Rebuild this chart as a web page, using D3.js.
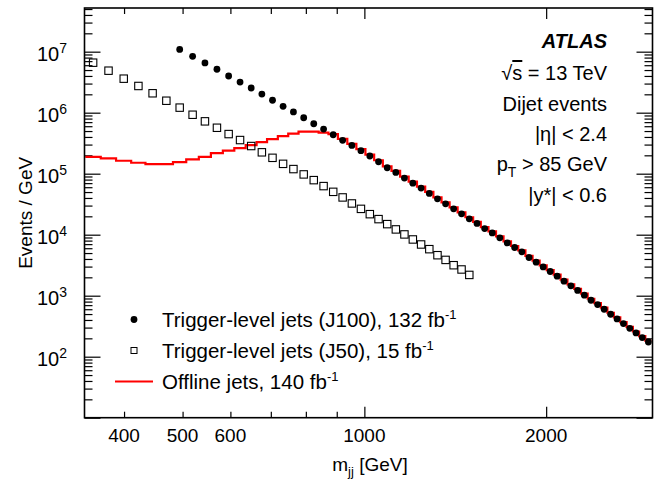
<!DOCTYPE html>
<html>
<head>
<meta charset="utf-8">
<script src="https://cdn.jsdelivr.net/npm/d3@7/dist/d3.min.js"></script>
<style>
  body { margin: 0; background: #fff; }
  svg text { font-family: "Liberation Sans", Arial, Helvetica, sans-serif; fill: #000; }
</style>
</head>
<body>
<div id="chart"></div>
<script>
// mjj bin edges [GeV]
const binEdges = [345, 366, 388, 411, 434, 458, 482, 507, 532, 557, 583, 609, 636, 663, 690, 719,
  748, 778, 809, 840, 872, 904, 937, 970, 1004, 1038, 1073, 1109, 1146, 1184, 1222, 1261, 1301,
  1342, 1384, 1427, 1470, 1514, 1559, 1605, 1652, 1700, 1749, 1798, 1848, 1899, 1951, 2004, 2058,
  2113, 2169, 2226, 2284, 2343, 2403, 2464, 2526, 2589, 2653, 2718, 2784, 2851, 2919, 2988];

// trigger-level J100 starts at bin 6
const j100FirstBin = 6;
const j100Values = [1.09e7, 8.4e6, 6.53e6, 5.15e6, 3.99e6, 3.18e6, 2.54e6, 2.02e6, 1.60e6, 1.27e6,
  1.03e6, 8.26e5, 6.58e5, 5.39e5, 4.35e5, 3.52e5, 2.91e5, 2.38e5, 1.95e5, 1.57e5, 1.25e5, 1.05e5,
  8.46e4, 7.0e4, 5.80e4, 4.75e4, 3.87e4, 3.20e4, 2.65e4, 2.20e4, 1.82e4, 1.53e4, 1.26e4, 1.07e4,
  8870, 7340, 6170, 5230, 4230, 3540, 2960, 2490, 2090, 1730, 1450, 1220, 1020, 842, 716, 600,
  496, 416, 349, 292, 245, 206, 174];

// trigger-level J50 from bin 0
const j50Values = [6.60e6, 4.88e6, 3.61e6, 2.74e6, 2.08e6, 1.57e6, 1.21e6, 9.25e5, 7.21e5, 5.66e5,
  4.46e5, 3.56e5, 2.84e5, 2.24e5, 1.82e5, 1.45e5, 1.19e5, 9.73e4, 7.84e4, 6.26e4, 5.04e4, 4.08e4,
  3.25e4, 2.65e4, 2.17e4, 1.80e4, 1.49e4, 1.22e4, 1.01e4, 8350, 6910, 5790, 4610, 3860, 3160,
  2690, 2190];

// offline jets, all bins
const offlineValues = [1.89e5, 1.78e5, 1.63e5, 1.51e5, 1.44e5, 1.44e5, 1.55e5, 1.72e5, 1.89e5, 2.18e5,
  2.39e5, 2.63e5, 2.94e5, 3.30e5, 3.69e5, 4.14e5, 4.55e5, 4.90e5, 4.90e5, 4.72e5,
  4.46e5, 3.72e5, 3.08e5, 2.52e5, 2.06e5, 1.66e5, 1.32e5, 1.11e5, 8.95e4, 7.41e4,
  6.14e4, 5.03e4, 4.10e4, 3.39e4, 2.80e4, 2.33e4, 1.93e4, 1.62e4, 1.33e4, 1.13e4,
  9380, 7770, 6530, 5530, 4480, 3750, 3130, 2630, 2210, 1830,
  1530, 1290, 1080, 891, 758, 635, 525, 440, 369, 309, 259, 218, 184];

const xMajorTicks = [1000, 2000];
const xMinorTicks = [400, 500, 600, 700, 800, 900];
const xTickLabels = [400, 500, 600, 1000, 2000];
const yLabelExponents = [2, 3, 4, 5, 6, 7];
const legendLabels = ["Trigger-level jets (J100), 132 fb", "Trigger-level jets (J50), 15 fb", "Offline jets, 140 fb"];

const width = 657, height = 479;
const plot = { left: 84.5, right: 652.5, top: 8, bottom: 417.7 };

const svg = d3.select("#chart")
  .append("svg")
  .attr("width", width)
  .attr("height", height);

const x = d3.scaleLog().domain([344, 3000]).range([plot.left, plot.right]);
const y = d3.scaleLog().domain([10, 5.2e7]).range([plot.bottom, plot.top]);

// bin helpers
const bins = d3.range(binEdges.length - 1).map(i => ({
  lo: binEdges[i], hi: binEdges[i + 1], c: (binEdges[i] + binEdges[i + 1]) / 2
}));

// minor y ticks 2..9 x 10^n
const yMinor = [];
for (let e = 1; e <= 7; e++) {
  for (let k = 2; k <= 9; k++) {
    const v = k * Math.pow(10, e);
    if (v <= 5.2e7) yMinor.push(v);
  }
}
const yMajor = d3.range(1, 8).map(e => Math.pow(10, e));

const clean = g => g.select(".domain").remove();

// ticks bottom / top
svg.append("g").attr("transform", `translate(0,${plot.bottom})`)
  .call(d3.axisBottom(x).tickValues(xMinorTicks).tickSize(-6).tickFormat("")).call(clean);
svg.append("g").attr("transform", `translate(0,${plot.bottom})`)
  .call(d3.axisBottom(x).tickValues(xMajorTicks).tickSize(-11).tickFormat("")).call(clean);
svg.append("g").attr("transform", `translate(0,${plot.top})`)
  .call(d3.axisTop(x).tickValues(xMinorTicks).tickSize(-6).tickFormat("")).call(clean);
svg.append("g").attr("transform", `translate(0,${plot.top})`)
  .call(d3.axisTop(x).tickValues(xMajorTicks).tickSize(-11).tickFormat("")).call(clean);

// ticks left / right
svg.append("g").attr("transform", `translate(${plot.left},0)`)
  .call(d3.axisLeft(y).tickValues(yMinor).tickSize(-8).tickFormat("")).call(clean);
svg.append("g").attr("transform", `translate(${plot.left},0)`)
  .call(d3.axisLeft(y).tickValues(yMajor).tickSize(-16).tickFormat("")).call(clean);
svg.append("g").attr("transform", `translate(${plot.right},0)`)
  .call(d3.axisRight(y).tickValues(yMinor).tickSize(-8).tickFormat("")).call(clean);
svg.append("g").attr("transform", `translate(${plot.right},0)`)
  .call(d3.axisRight(y).tickValues(yMajor).tickSize(-16).tickFormat("")).call(clean);

svg.selectAll(".tick line").attr("stroke", "#000").attr("stroke-width", 1.2);

// x tick labels
svg.append("g").selectAll("text")
  .data(xTickLabels)
  .enter().append("text")
  .attr("x", d => x(d))
  .attr("y", 442)
  .attr("text-anchor", "middle")
  .style("font-size", "19px")
  .text(d => d);

// y tick labels 10^n
const yl = svg.append("g").selectAll("text")
  .data(yLabelExponents)
  .enter().append("text")
  .attr("x", 67)
  .attr("y", d => y(Math.pow(10, d)) + 9.5)
  .attr("text-anchor", "end")
  .style("font-size", "20px");
yl.append("tspan").text("10");
yl.append("tspan").attr("dy", -8).style("font-size", "14px").text(d => d);

// axis titles
const xt = svg.append("text")
  .attr("x", 370)
  .attr("y", 471)
  .attr("text-anchor", "middle")
  .style("font-size", "19px");
xt.append("tspan").text("m");
xt.append("tspan").attr("dy", 5).style("font-size", "13px").text("jj");
xt.append("tspan").attr("dy", -5).text(" [GeV]");

svg.append("text")
  .attr("transform", `translate(32,${(plot.top + plot.bottom) / 2}) rotate(-90)`)
  .attr("text-anchor", "middle")
  .style("font-size", "19px")
  .text("Events / GeV");

// clip to frame
svg.append("clipPath").attr("id", "clip")
  .append("rect")
  .attr("x", plot.left).attr("y", plot.top)
  .attr("width", plot.right - plot.left).attr("height", plot.bottom - plot.top);

const area = svg.append("g").attr("clip-path", "url(#clip)");

// offline histogram as steps
let path = "";
offlineValues.forEach((v, i) => {
  const b = bins[i];
  path += (i === 0 ? "M" : "L") + x(b.lo) + "," + y(v) + "L" + x(b.hi) + "," + y(v);
});
area.append("path")
  .attr("d", path)
  .attr("fill", "none")
  .attr("stroke", "#ff0000")
  .attr("stroke-width", 2.2);

// J50 open squares
area.selectAll(".j50")
  .data(j50Values)
  .enter().append("rect")
  .attr("class", "j50")
  .attr("x", (d, i) => x(bins[i].c) - 3.7)
  .attr("y", d => y(d) - 3.7)
  .attr("width", 7.4)
  .attr("height", 7.4)
  .attr("fill", "none")
  .attr("stroke", "#000")
  .attr("stroke-width", 1.1);

// J100 full circles
area.selectAll(".j100")
  .data(j100Values)
  .enter().append("circle")
  .attr("class", "j100")
  .attr("cx", (d, i) => x(bins[i + j100FirstBin].c))
  .attr("cy", d => y(d))
  .attr("r", 3.4)
  .attr("fill", "#000");

// frame
svg.append("rect")
  .attr("x", plot.left).attr("y", plot.top)
  .attr("width", plot.right - plot.left).attr("height", plot.bottom - plot.top)
  .attr("fill", "none")
  .attr("stroke", "#000")
  .attr("stroke-width", 1.6);

// info text
const infoX = 607;
svg.append("text")
  .attr("x", infoX).attr("y", 48)
  .attr("text-anchor", "end")
  .style("font-size", "20px")
  .style("font-weight", "bold")
  .style("font-style", "italic")
  .text("ATLAS");

const rs = svg.append("text").attr("x", infoX).attr("y", 80).attr("text-anchor", "end").style("font-size", "20px");
rs.append("tspan").text("\u221A");
rs.append("tspan").style("text-decoration", "overline").text("s");
rs.append("tspan").text(" = 13 TeV");

svg.append("text").attr("x", infoX).attr("y", 110.5).attr("text-anchor", "end")
  .style("font-size", "20px").text("Dijet events");
svg.append("text").attr("x", infoX).attr("y", 141).attr("text-anchor", "end")
  .style("font-size", "20px").text("|\u03B7| < 2.4");

const pt = svg.append("text").attr("x", infoX).attr("y", 171).attr("text-anchor", "end").style("font-size", "20px");
pt.append("tspan").text("p");
pt.append("tspan").attr("dy", 6).style("font-size", "14px").text("T");
pt.append("tspan").attr("dy", -6).text(" > 85 GeV");

svg.append("text").attr("x", infoX).attr("y", 201.5).attr("text-anchor", "end")
  .style("font-size", "20px").text("|y*| < 0.6");

// legend
const legY = [319.5, 350.5, 381.5];
const legX = 134;
svg.append("circle").attr("cx", legX).attr("cy", legY[0]).attr("r", 3.4).attr("fill", "#000");
svg.append("rect").attr("x", legX - 3).attr("y", legY[1] - 3).attr("width", 6).attr("height", 6)
  .attr("fill", "none").attr("stroke", "#000").attr("stroke-width", 1);
svg.append("line").attr("x1", legX - 19).attr("x2", legX + 19).attr("y1", legY[2]).attr("y2", legY[2])
  .attr("stroke", "#ff0000").attr("stroke-width", 2);

const lt = svg.append("g").selectAll("text")
  .data(legendLabels)
  .enter().append("text")
  .attr("x", 162)
  .attr("y", (d, i) => legY[i] + 7)
  .style("font-size", "20.5px");
lt.append("tspan").text(d => d);
lt.append("tspan").attr("dy", -8).style("font-size", "13px").text("-1");
</script>
</body>
</html>
